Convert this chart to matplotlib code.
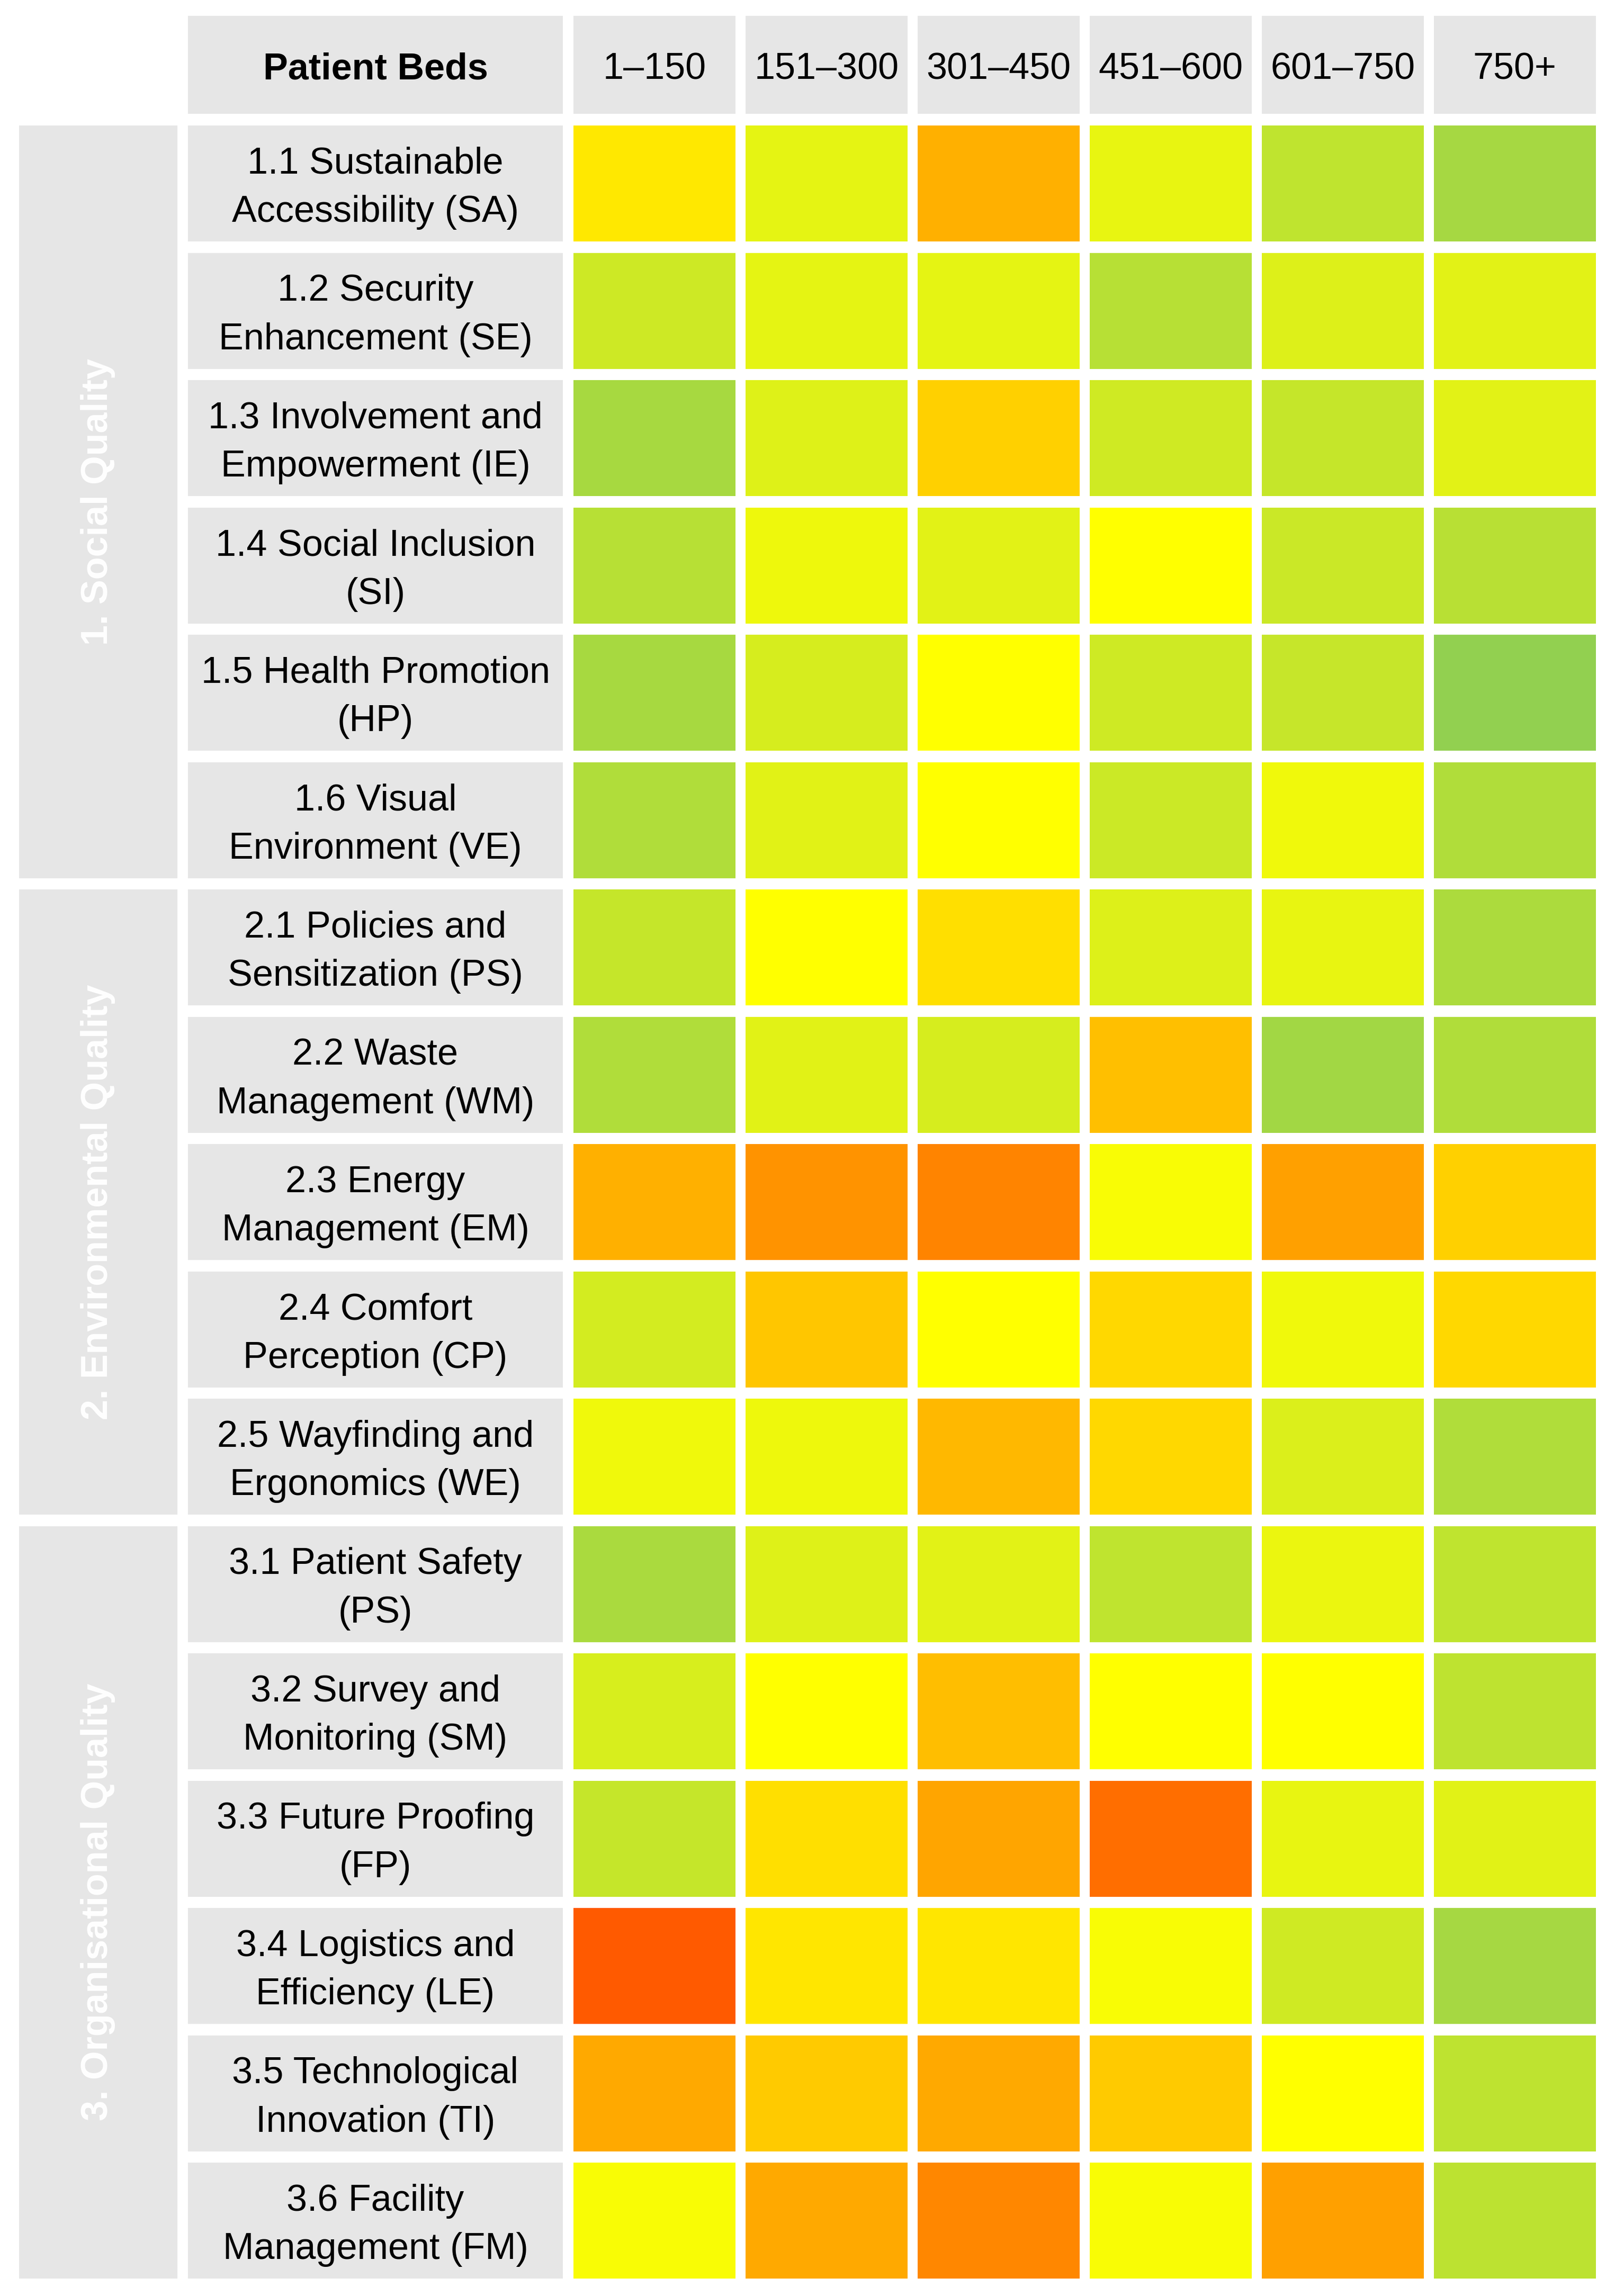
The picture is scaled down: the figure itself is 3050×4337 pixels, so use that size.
import matplotlib
matplotlib.use('Agg')
import matplotlib.pyplot as plt
from matplotlib.colors import LinearSegmentedColormap, Normalize
import numpy as np

plt.rcParams['font.family'] = ['Liberation Sans', 'DejaVu Sans']

# ---------------- data ----------------
header_label = 'Patient Beds'
bed_classes = ['1–150', '151–300', '301–450', '451–600', '601–750', '750+']

groups = ['1. Social Quality', '2. Environmental Quality', '3. Organisational Quality']
group_sizes = [6, 5, 6]

criteria = [
    '1.1 Sustainable\nAccessibility (SA)',
    '1.2 Security\nEnhancement (SE)',
    '1.3 Involvement and\nEmpowerment (IE)',
    '1.4 Social Inclusion\n(SI)',
    '1.5 Health Promotion\n(HP)',
    '1.6 Visual\nEnvironment (VE)',
    '2.1 Policies and\nSensitization (PS)',
    '2.2 Waste\nManagement (WM)',
    '2.3 Energy\nManagement (EM)',
    '2.4 Comfort\nPerception (CP)',
    '2.5 Wayfinding and\nErgonomics (WE)',
    '3.1 Patient Safety\n(PS)',
    '3.2 Survey and\nMonitoring (SM)',
    '3.3 Future Proofing\n(FP)',
    '3.4 Logistics and\nEfficiency (LE)',
    '3.5 Technological\nInnovation (TI)',
    '3.6 Facility\nManagement (FM)',
]

# normalised performance score (0 = worst, 1 = best)
scores_sa = [0.434, 0.620, 0.274, 0.605, 0.790, 0.910]
scores_se = [0.730, 0.620, 0.620, 0.830, 0.655, 0.635]
scores_ie = [0.900, 0.650, 0.366, 0.720, 0.765, 0.635]
scores_si = [0.830, 0.575, 0.635, 0.500, 0.745, 0.825]
scores_hp = [0.900, 0.685, 0.500, 0.725, 0.760, 1.000]
scores_ve = [0.860, 0.640, 0.500, 0.735, 0.570, 0.860]
scores_ps = [0.765, 0.500, 0.410, 0.655, 0.605, 0.880]
scores_wm = [0.860, 0.640, 0.685, 0.320, 0.925, 0.860]
scores_em = [0.274, 0.194, 0.151, 0.530, 0.229, 0.366]
scores_cp = [0.700, 0.337, 0.500, 0.389, 0.570, 0.389]
scores_we = [0.570, 0.575, 0.297, 0.389, 0.665, 0.860]
scores_pss = [0.890, 0.650, 0.635, 0.790, 0.590, 0.790]
scores_sm = [0.680, 0.500, 0.314, 0.500, 0.500, 0.800]
scores_fp = [0.765, 0.410, 0.243, 0.086, 0.605, 0.640]
scores_le = [0.029, 0.426, 0.426, 0.530, 0.720, 0.910]
scores_ti = [0.257, 0.349, 0.257, 0.349, 0.500, 0.800]
scores_fm = [0.530, 0.257, 0.160, 0.530, 0.229, 0.805]

scores = np.array([scores_sa, scores_se, scores_ie, scores_si, scores_hp, scores_ve,
                   scores_ps, scores_wm, scores_em, scores_cp, scores_we,
                   scores_pss, scores_sm, scores_fp, scores_le, scores_ti, scores_fm])

# ---------------- style / layout ----------------
W, H = 3050, 4337
GRAY = '#E6E6E6'
cmap = LinearSegmentedColormap.from_list(
    'quality', [(0.0, '#FF5000'), (0.5, '#FFFF00'), (1.0, '#92D050')])
norm = Normalize(0, 1)

X_GROUP = (36, 335)
X_LABEL = (355, 1063)
X_COL0, COL_PITCH, COL_W = 1083, 324.9, 306
Y_HEAD = (30, 215)
Y_ROW0, ROW_PITCH, ROW_H = 237, 240.5, 219
FS = 50.5
TEXT_DY = 9      # small downward nudge so glyphs sit optically centred

fig = plt.figure(figsize=(W / 100, H / 100), dpi=100)
ax = fig.add_axes([0, 0, 1, 1])
ax.set_xlim(0, W)
ax.set_ylim(H, 0)
ax.axis('off')

n_rows, n_cols = scores.shape
col_left = X_COL0 + np.arange(n_cols) * COL_PITCH
row_top = Y_ROW0 + np.arange(n_rows) * ROW_PITCH

# header
head_mid = (Y_HEAD[0] + Y_HEAD[1]) / 2 + TEXT_DY
ax.bar(X_LABEL[0], Y_HEAD[1] - Y_HEAD[0], width=X_LABEL[1] - X_LABEL[0],
       bottom=Y_HEAD[0], align='edge', color=GRAY, linewidth=0)
ax.text((X_LABEL[0] + X_LABEL[1]) / 2, head_mid, header_label,
        ha='center', va='center', fontsize=FS, fontweight='bold', color='black')
ax.bar(col_left, Y_HEAD[1] - Y_HEAD[0], width=COL_W, bottom=Y_HEAD[0],
       align='edge', color=GRAY, linewidth=0)
for j, lab in enumerate(bed_classes):
    ax.text(col_left[j] + COL_W / 2, head_mid, lab,
            ha='center', va='center', fontsize=FS, color='black')

# group boxes
start = 0
for g, n in zip(groups, group_sizes):
    top = row_top[start]
    bot = row_top[start + n - 1] + ROW_H
    ax.bar(X_GROUP[0], bot - top, width=X_GROUP[1] - X_GROUP[0], bottom=top,
           align='edge', color=GRAY, linewidth=0)
    ax.text((X_GROUP[0] + X_GROUP[1]) / 2, (top + bot) / 2, g, rotation=90,
            ha='center', va='center', fontsize=FS, fontweight='bold', color='white')
    start += n

# criteria labels and heat cells
for i in range(n_rows):
    ax.bar(X_LABEL[0], ROW_H, width=X_LABEL[1] - X_LABEL[0], bottom=row_top[i],
           align='edge', color=GRAY, linewidth=0)
    ax.text((X_LABEL[0] + X_LABEL[1]) / 2, row_top[i] + ROW_H / 2 + TEXT_DY, criteria[i],
            ha='center', va='center', fontsize=FS, color='black',
            linespacing=1.5, multialignment='center')
    ax.bar(col_left, ROW_H, width=COL_W, bottom=row_top[i], align='edge',
           color=cmap(norm(scores[i])), linewidth=0)

fig.savefig('out.png', dpi=100, facecolor='white')
